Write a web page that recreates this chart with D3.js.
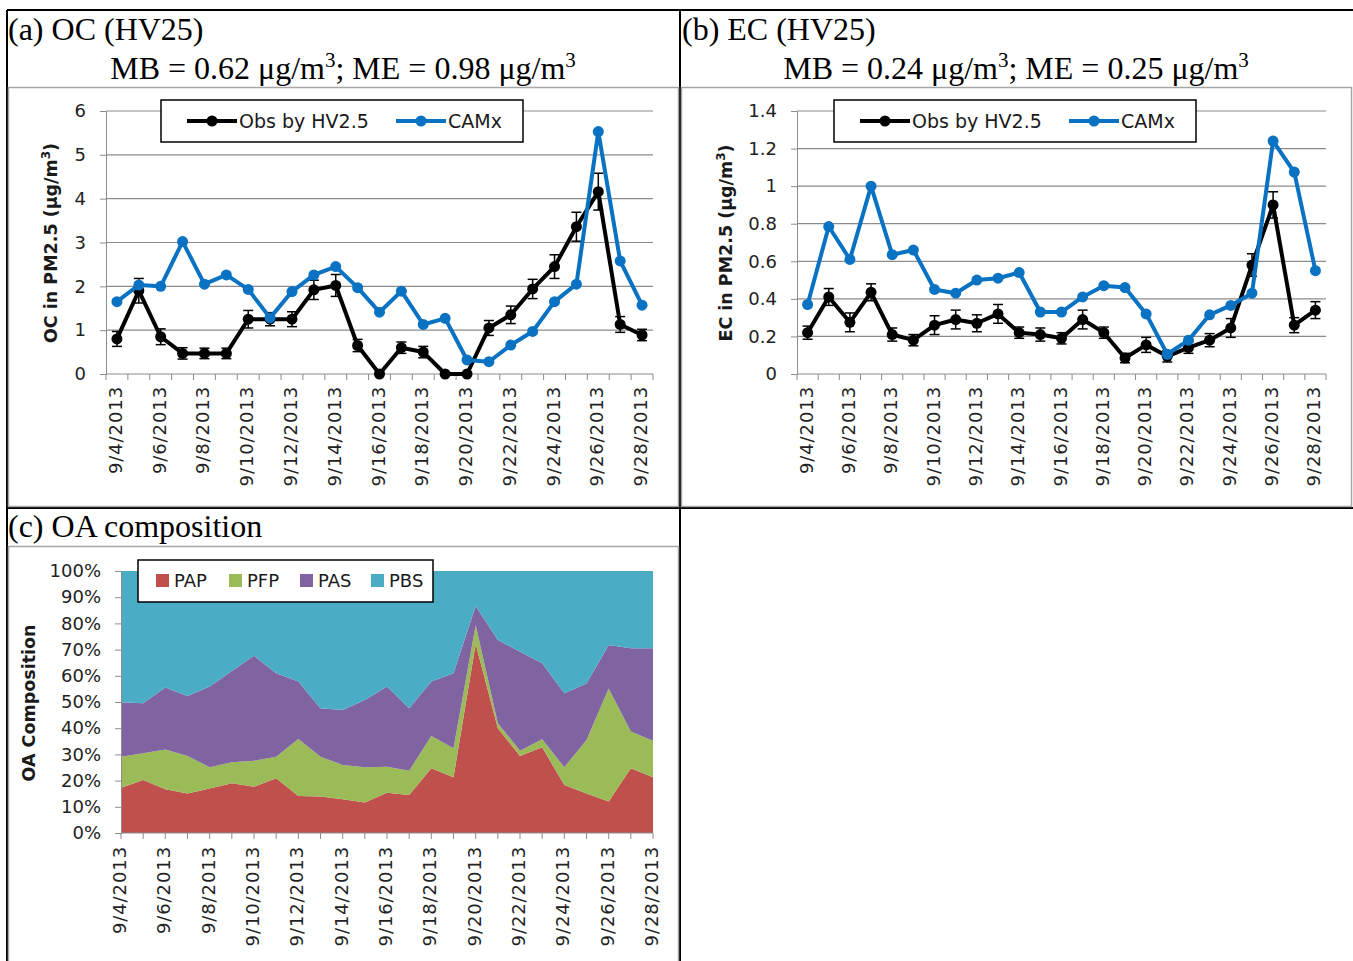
<!DOCTYPE html>
<html>
<head>
<meta charset="utf-8">
<script src="https://cdn.jsdelivr.net/npm/d3@7"></script>
<style>
  body { margin: 0; background: #fff; }
  svg { display: block; }
</style>
</head>
<body>
<div id="chart"></div>
<script>
// sampling days, 9/4 .. 9/28
const days = ['9/4/2013', '9/5/2013', '9/6/2013', '9/7/2013', '9/8/2013', '9/9/2013', '9/10/2013',
  '9/11/2013', '9/12/2013', '9/13/2013', '9/14/2013', '9/15/2013', '9/16/2013', '9/17/2013',
  '9/18/2013', '9/19/2013', '9/20/2013', '9/21/2013', '9/22/2013', '9/23/2013', '9/24/2013',
  '9/25/2013', '9/26/2013', '9/27/2013', '9/28/2013']

// (a) OC, ug/m3
const ocObs = [0.8, 1.9, 0.85, 0.47, 0.47, 0.47, 1.25, 1.25, 1.25, 1.92, 2.02, 0.65, 0.0, 0.6,
  0.5, 0.0, 0.0, 1.05, 1.35, 1.94, 2.45, 3.36, 4.16, 1.13, 0.89]
const ocObsErr = [0.17, 0.28, 0.18, 0.13, 0.12, 0.12, 0.2, 0.15, 0.17, 0.22, 0.25, 0.14, 0.02, 0.13,
  0.13, 0.02, 0.02, 0.17, 0.2, 0.22, 0.27, 0.33, 0.42, 0.18, 0.13]
const ocCamx = [1.65, 2.03, 2.0, 3.02, 2.05, 2.26, 1.93, 1.28, 1.88, 2.26, 2.45, 1.97, 1.41, 1.89,
  1.13, 1.27, 0.32, 0.28, 0.66, 0.97, 1.65, 2.05, 5.53, 2.58, 1.57]

// (b) EC, ug/m3
const ecObs = [0.22, 0.41, 0.275, 0.435, 0.21, 0.18, 0.26, 0.29, 0.27, 0.32, 0.22, 0.21, 0.19, 0.29,
  0.22, 0.085, 0.155, 0.094, 0.14, 0.18, 0.245, 0.58, 0.9, 0.26, 0.34]
const ecObsErr = [0.035, 0.045, 0.05, 0.045, 0.035, 0.03, 0.05, 0.05, 0.045, 0.05, 0.03, 0.035, 0.03, 0.05,
  0.03, 0.025, 0.04, 0.03, 0.03, 0.035, 0.05, 0.06, 0.07, 0.04, 0.045]
const ecCamx = [0.37, 0.785, 0.61, 1.0, 0.635, 0.66, 0.45, 0.43, 0.5, 0.51, 0.54, 0.33, 0.33, 0.41,
  0.47, 0.46, 0.32, 0.105, 0.18, 0.315, 0.365, 0.43, 1.24, 1.075, 0.55]

// (c) OA composition, percent
const oaPAP = [17.3, 20.2, 16.7, 15.1, 17.0, 19.0, 17.7, 20.9, 14.1, 13.9, 12.9, 11.6, 15.4, 14.5,
  24.7, 21.3, 72.1, 40.0, 29.4, 32.7, 18.3, 15.1, 12.0, 24.7, 21.3]
const oaPFP = [11.8, 10.2, 15.2, 14.3, 8.1, 8.0, 9.9, 8.2, 21.8, 15.2, 13.1, 13.5, 9.9, 9.3,
  12.3, 11.0, 7.3, 1.9, 2.0, 3.1, 6.8, 20.4, 43.2, 14.0, 13.9]
const oaPAS = [20.8, 19.1, 23.6, 22.9, 30.8, 34.8, 40.1, 31.9, 21.9, 18.5, 20.9, 25.7, 30.6, 23.8,
  20.8, 28.7, 7.2, 31.8, 37.8, 29.0, 28.2, 21.6, 16.6, 31.8, 35.3]
const oaPBS = [50.1, 50.5, 44.5, 47.7, 44.1, 38.2, 32.3, 39.0, 42.2, 52.4, 53.1, 49.2, 44.1, 52.4,
  42.2, 39.0, 13.4, 26.3, 30.8, 35.2, 46.7, 42.9, 28.2, 29.5, 29.5]
const oaKeys = ['PAP', 'PFP', 'PAS', 'PBS']
const oaColors = ['#c0504d', '#9bbb59', '#8064a2', '#4bacc6']

const obsColor = '#000'
const camxColor = '#0a72c2'
const gridColor = '#8c8c8c'
const sans = 'DejaVu Sans, Verdana, sans-serif'
const serif = 'Liberation Serif, Times New Roman, serif'

const svg = d3.select('#chart')
  .append('svg')
  .attr('width', 1353)
  .attr('height', 961)

// table frame
const frame = [
  [7, 10, 1353, 10], [7, 10, 7, 961], [680, 10, 680, 961], [7, 508, 1353, 508]
]
svg.selectAll('.frame').data(frame).join('line')
  .attr('x1', d => d[0]).attr('y1', d => d[1]).attr('x2', d => d[2]).attr('y2', d => d[3])
  .attr('stroke', '#000').attr('stroke-width', 2)

// chart image borders
const boxes = [[8.5, 87.5, 670, 419], [681.5, 87.5, 670, 419], [8.5, 546.5, 670, 420]]
svg.selectAll('.box').data(boxes).join('rect')
  .attr('x', d => d[0]).attr('y', d => d[1]).attr('width', d => d[2]).attr('height', d => d[3])
  .attr('fill', 'none').attr('stroke', '#a6a6a6').attr('stroke-width', 1.5)

const title = (x, y, str, anchor) => svg.append('text')
  .attr('x', x).attr('y', y)
  .attr('font-family', serif).attr('font-size', 32)
  .attr('text-anchor', anchor || 'start')
  .text(str)

const mbLine = (cx, y, mb, me) => {
  const t = svg.append('text')
    .attr('x', cx).attr('y', y)
    .attr('font-family', serif).attr('font-size', 32)
    .attr('text-anchor', 'middle')
  t.append('tspan').text(`MB = ${mb} μg/m`)
  t.append('tspan').attr('dy', -12).attr('font-size', 21).text('3')
  t.append('tspan').attr('dy', 12).text(`; ME = ${me} μg/m`)
  t.append('tspan').attr('dy', -12).attr('font-size', 21).text('3')
}

title(8, 40, '(a) OC (HV25)')
mbLine(343, 79, '0.62', '0.98')
title(682, 40, '(b) EC (HV25)')
mbLine(1016, 79, '0.24', '0.25')
title(8, 537, '(c) OA composition')

const yTitle = (cx, cy, label, sup) => {
  const t = svg.append('text')
    .attr('transform', `translate(${cx},${cy}) rotate(-90)`)
    .attr('text-anchor', 'middle')
    .attr('dominant-baseline', 'middle')
    .attr('font-family', sans).attr('font-weight', 'bold').attr('font-size', 17.5)
    .attr('fill', '#1a1a1a')
  t.append('tspan').text(label)
  if (sup) {
    t.append('tspan').attr('dy', -6).attr('font-size', 12).text('3')
    t.append('tspan').attr('dy', 6).text(')')
  }
}

const styleYAxis = (ax) => {
  ax.select('.domain').attr('stroke', gridColor)
  ax.selectAll('.tick line').attr('stroke', gridColor)
  ax.selectAll('.tick text')
    .attr('font-family', sans).attr('font-size', 18).attr('fill', '#222')
}

const xLabelStyle = (sel) => sel
  .attr('text-anchor', 'end')
  .attr('dominant-baseline', 'middle')
  .attr('font-family', sans).attr('font-size', 18).attr('letter-spacing', 0.9)
  .attr('fill', '#222')

const drawLinePanel = (p) => {
  const x = d3.scaleBand().domain(days).range([p.left, p.right])
  const y = d3.scaleLinear().domain([0, p.max]).range([p.bottom, p.top])
  const cx = d => x(d) + x.bandwidth() / 2
  const ticks = d3.range(0, p.max + p.step / 2, p.step)
  const g = svg.append('g')

  // gridlines
  g.selectAll('.grid').data(ticks.slice(1)).join('line')
    .attr('x1', p.left).attr('x2', p.right)
    .attr('y1', d => y(d)).attr('y2', d => y(d))
    .attr('stroke', gridColor).attr('stroke-width', 1.2)

  const ya = g.append('g')
    .attr('transform', `translate(${p.left},0)`)
    .call(d3.axisLeft(y).tickValues(ticks).tickSize(6).tickPadding(14).tickFormat(p.fmt))
  styleYAxis(ya)

  // x axis
  g.append('line')
    .attr('x1', p.left).attr('x2', p.right).attr('y1', p.bottom).attr('y2', p.bottom)
    .attr('stroke', gridColor).attr('stroke-width', 1.2)
  g.selectAll('.xt').data(d3.range(days.length + 1)).join('line')
    .attr('x1', i => p.left + i * x.step()).attr('x2', i => p.left + i * x.step())
    .attr('y1', p.bottom).attr('y2', p.bottom + 6)
    .attr('stroke', gridColor)
  g.selectAll('.xl').data(days.filter((d, i) => i % 2 === 0)).join('text')
    .attr('transform', d => `translate(${cx(d)},${p.bottom + 12}) rotate(-90)`)
    .call(xLabelStyle)
    .text(d => d)

  yTitle(p.titleX, 243, p.label, true)

  const line = d3.line().x((d, i) => cx(days[i])).y(d => y(d))

  // observations with error bars
  g.append('path').datum(p.obs)
    .attr('fill', 'none').attr('stroke', obsColor).attr('stroke-width', 4)
    .attr('stroke-linejoin', 'round').attr('d', line)
  const eb = g.selectAll('.eb').data(p.obs).join('g')
  eb.append('line')
    .attr('x1', (d, i) => cx(days[i])).attr('x2', (d, i) => cx(days[i]))
    .attr('y1', (d, i) => y(Math.max(0, d - p.err[i]))).attr('y2', (d, i) => y(d + p.err[i]))
    .attr('stroke', '#000').attr('stroke-width', 1.5)
  eb.append('line')
    .attr('x1', (d, i) => cx(days[i]) - 5).attr('x2', (d, i) => cx(days[i]) + 5)
    .attr('y1', (d, i) => y(d + p.err[i])).attr('y2', (d, i) => y(d + p.err[i]))
    .attr('stroke', '#000').attr('stroke-width', 1.5)
  eb.append('line')
    .attr('x1', (d, i) => cx(days[i]) - 5).attr('x2', (d, i) => cx(days[i]) + 5)
    .attr('y1', (d, i) => y(Math.max(0, d - p.err[i]))).attr('y2', (d, i) => y(Math.max(0, d - p.err[i])))
    .attr('stroke', '#000').attr('stroke-width', 1.5)
  g.selectAll('.ob').data(p.obs).join('circle')
    .attr('cx', (d, i) => cx(days[i])).attr('cy', d => y(d)).attr('r', 5.5)
    .attr('fill', obsColor)

  // model
  g.append('path').datum(p.camx)
    .attr('fill', 'none').attr('stroke', camxColor).attr('stroke-width', 4)
    .attr('stroke-linejoin', 'round').attr('d', line)
  g.selectAll('.cm').data(p.camx).join('circle')
    .attr('cx', (d, i) => cx(days[i])).attr('cy', d => y(d)).attr('r', 5.5)
    .attr('fill', camxColor)

  // legend
  const lg = g.append('g').attr('transform', `translate(${p.legendX},100)`)
  lg.append('rect').attr('width', 362).attr('height', 42)
    .attr('fill', '#fff').attr('stroke', '#000').attr('stroke-width', 1.5)
  const items = [['Obs by HV2.5', obsColor, 26], ['CAMx', camxColor, 235]]
  items.forEach(([name, color, off]) => {
    lg.append('line').attr('x1', off).attr('x2', off + 50).attr('y1', 21).attr('y2', 21)
      .attr('stroke', color).attr('stroke-width', 4)
    lg.append('circle').attr('cx', off + 25).attr('cy', 21).attr('r', 5.5).attr('fill', color)
    lg.append('text').attr('x', off + 52).attr('y', 28)
      .attr('font-family', sans).attr('font-size', 19).attr('fill', '#1a1a1a')
      .text(name)
  })
}

drawLinePanel({
  left: 106, right: 653, top: 111, bottom: 374, max: 6, step: 1, fmt: d3.format('d'),
  obs: ocObs, err: ocObsErr, camx: ocCamx, label: 'OC in PM2.5 (μg/m', titleX: 52, legendX: 161
})
drawLinePanel({
  left: 797, right: 1326, top: 111, bottom: 374, max: 1.4, step: 0.2, fmt: d => String(+d.toFixed(1)),
  obs: ecObs, err: ecObsErr, camx: ecCamx, label: 'EC in PM2.5 (μg/m', titleX: 727, legendX: 834
})

// (c) stacked 100% area
const oaRows = days.map((d, i) => ({ day: d, PAP: oaPAP[i], PFP: oaPFP[i], PAS: oaPAS[i], PBS: oaPBS[i] }))
const stack = d3.stack().keys(oaKeys).offset(d3.stackOffsetExpand)
const series = stack(oaRows)

const cLeft = 121
const cRight = 653
const cTop = 571
const cBottom = 833
const xc = d3.scalePoint().domain(days).range([cLeft, cRight])
const yc = d3.scaleLinear().domain([0, 1]).range([cBottom, cTop])

const gc = svg.append('g')
const area = d3.area()
  .x(d => xc(d.data.day))
  .y0(d => yc(d[0]))
  .y1(d => yc(d[1]))
gc.selectAll('.layer').data(series).join('path')
  .attr('fill', (d, i) => oaColors[i])
  .attr('d', area)

const yca = gc.append('g')
  .attr('transform', `translate(${cLeft},0)`)
  .call(d3.axisLeft(yc).tickValues(d3.range(0, 1.01, 0.1)).tickSize(6).tickPadding(14)
    .tickFormat(d3.format('.0%')))
styleYAxis(yca)

gc.append('line')
  .attr('x1', cLeft).attr('x2', cRight).attr('y1', cBottom).attr('y2', cBottom)
  .attr('stroke', gridColor).attr('stroke-width', 1.2)
gc.selectAll('.xt').data(days).join('line')
  .attr('x1', d => xc(d)).attr('x2', d => xc(d))
  .attr('y1', cBottom).attr('y2', cBottom + 6)
  .attr('stroke', gridColor)
gc.selectAll('.xl').data(days.filter((d, i) => i % 2 === 0)).join('text')
  .attr('transform', d => `translate(${xc(d)},${cBottom + 13}) rotate(-90)`)
  .call(xLabelStyle)
  .text(d => d)

yTitle(30, 703, 'OA Composition', false)

const lc = gc.append('g').attr('transform', 'translate(138,560)')
lc.append('rect').attr('width', 295).attr('height', 42)
  .attr('fill', '#fff').attr('stroke', '#000').attr('stroke-width', 1.5)
const lcOffsets = [18, 91, 162, 233]
oaKeys.forEach((k, i) => {
  lc.append('rect').attr('x', lcOffsets[i]).attr('y', 14).attr('width', 13).attr('height', 13)
    .attr('fill', oaColors[i])
  lc.append('text').attr('x', lcOffsets[i] + 18).attr('y', 27)
    .attr('font-family', sans).attr('font-size', 18).attr('fill', '#1a1a1a')
    .text(k)
})
</script>
</body>
</html>
